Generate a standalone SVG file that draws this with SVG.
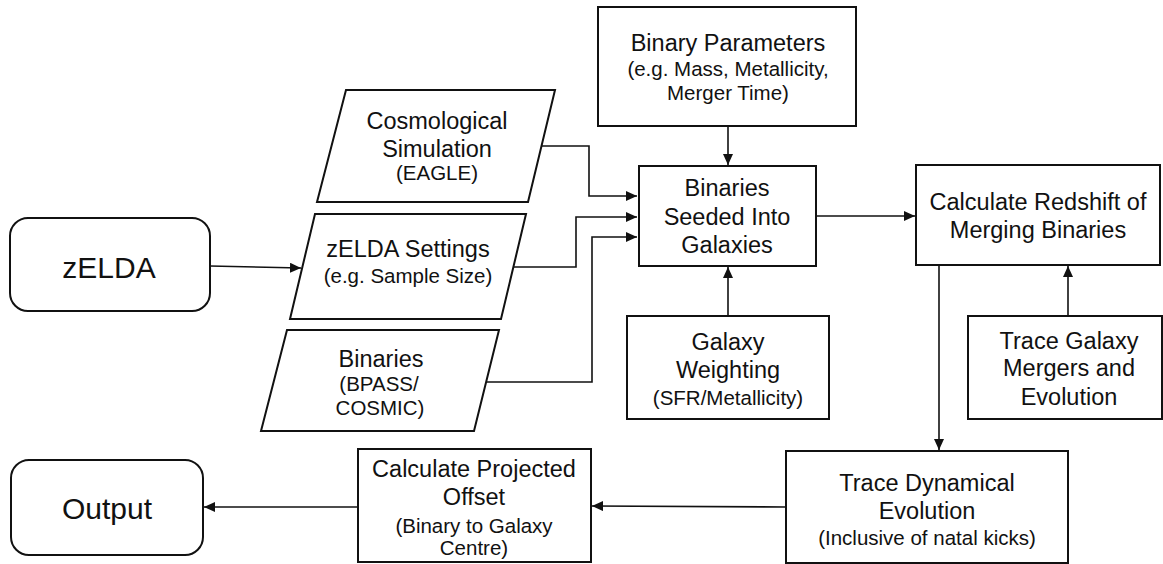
<svg xmlns="http://www.w3.org/2000/svg" width="1163" height="564" viewBox="0 0 1163 564">
<style>
.box{fill:#fff;stroke:#111;stroke-width:2}
.t{font-family:"Liberation Sans",Arial,sans-serif;fill:#111;text-anchor:middle}
.m{font-size:23.5px}
.s{font-size:20.5px}
.b{font-size:30px}
.c{fill:none;stroke:#111;stroke-width:1.6}
</style>
<defs>
<marker id="ah" markerUnits="userSpaceOnUse" markerWidth="12" markerHeight="10" refX="11" refY="5" orient="auto">
<path d="M0,0 L11,5 L0,10 Z" fill="#111"/>
</marker>
</defs>
<rect width="1163" height="564" fill="#fff"/>
<g id="connectors">
<path class="c" d="M541,146 H589 V196 H637" marker-end="url(#ah)"/>
<path class="c" d="M514,267 H576 V217 H637" marker-end="url(#ah)"/>
<path class="c" d="M486,382 H592 V237 H637" marker-end="url(#ah)"/>
<path class="c" d="M210,266 L301,268" marker-end="url(#ah)"/>
<path class="c" d="M728,126 V165" marker-end="url(#ah)"/>
<path class="c" d="M728,316 V267" marker-end="url(#ah)"/>
<path class="c" d="M816,216 H915" marker-end="url(#ah)"/>
<path class="c" d="M1068,316 V266" marker-end="url(#ah)"/>
<path class="c" d="M939,265 V450" marker-end="url(#ah)"/>
<path class="c" d="M786,507 L592,506" marker-end="url(#ah)"/>
<path class="c" d="M357,507 L204,507" marker-end="url(#ah)"/>
</g>
<g id="zelda">
<rect class="box" x="10" y="218" width="200" height="93" rx="18"/>
<text class="t b" x="109" y="278">zELDA</text>
</g>
<g id="cosmo">
<polygon class="box" points="346,90 555,90 528,202 317,202"/>
<text class="t m" x="437" y="129">Cosmological</text>
<text class="t m" x="437" y="157">Simulation</text>
<text class="t s" x="437" y="180">(EAGLE)</text>
</g>
<g id="settings">
<polygon class="box" points="315,214 526,214 501,319 290,319"/>
<text class="t m" x="408" y="257">zELDA Settings</text>
<text class="t s" x="408" y="283">(e.g. Sample Size)</text>
</g>
<g id="binaries">
<polygon class="box" points="287,330 499,330 474,431 261,431"/>
<text class="t m" x="381" y="367">Binaries</text>
<text class="t s" x="379" y="391">(BPASS/</text>
<text class="t s" x="380" y="415">COSMIC)</text>
</g>
<g id="binparams">
<rect class="box" x="598" y="7" width="258" height="119"/>
<text class="t m" x="728" y="51">Binary Parameters</text>
<text class="t s" x="728" y="76">(e.g. Mass, Metallicity,</text>
<text class="t s" x="728" y="100">Merger Time)</text>
</g>
<g id="seeded">
<rect class="box" x="639" y="166" width="177" height="100"/>
<text class="t m" x="727" y="196">Binaries</text>
<text class="t m" x="727" y="225">Seeded Into</text>
<text class="t m" x="727" y="253">Galaxies</text>
</g>
<g id="redshift">
<rect class="box" x="916" y="165" width="244" height="100"/>
<text class="t m" x="1038" y="210">Calculate Redshift of</text>
<text class="t m" x="1038" y="238">Merging Binaries</text>
</g>
<g id="weighting">
<rect class="box" x="627" y="316" width="202" height="103"/>
<text class="t m" x="728" y="350">Galaxy</text>
<text class="t m" x="728" y="378">Weighting</text>
<text class="t s" x="728" y="405">(SFR/Metallicity)</text>
</g>
<g id="mergers">
<rect class="box" x="968" y="316" width="194" height="103"/>
<text class="t m" x="1069" y="349">Trace Galaxy</text>
<text class="t m" x="1069" y="376">Mergers and</text>
<text class="t m" x="1069" y="405">Evolution</text>
</g>
<g id="dynamical">
<rect class="box" x="786" y="451" width="282" height="112"/>
<text class="t m" x="927" y="491">Trace Dynamical</text>
<text class="t m" x="927" y="519">Evolution</text>
<text class="t s" x="927" y="545">(Inclusive of natal kicks)</text>
</g>
<g id="offset">
<rect class="box" x="358" y="449" width="233" height="113"/>
<text class="t m" x="474" y="477">Calculate Projected</text>
<text class="t m" x="474" y="505">Offset</text>
<text class="t s" x="474" y="533">(Binary to Galaxy</text>
<text class="t s" x="474" y="555">Centre)</text>
</g>
<g id="output">
<rect class="box" x="11" y="460" width="192" height="95" rx="18"/>
<text class="t b" x="107" y="519">Output</text>
</g>
</svg>
